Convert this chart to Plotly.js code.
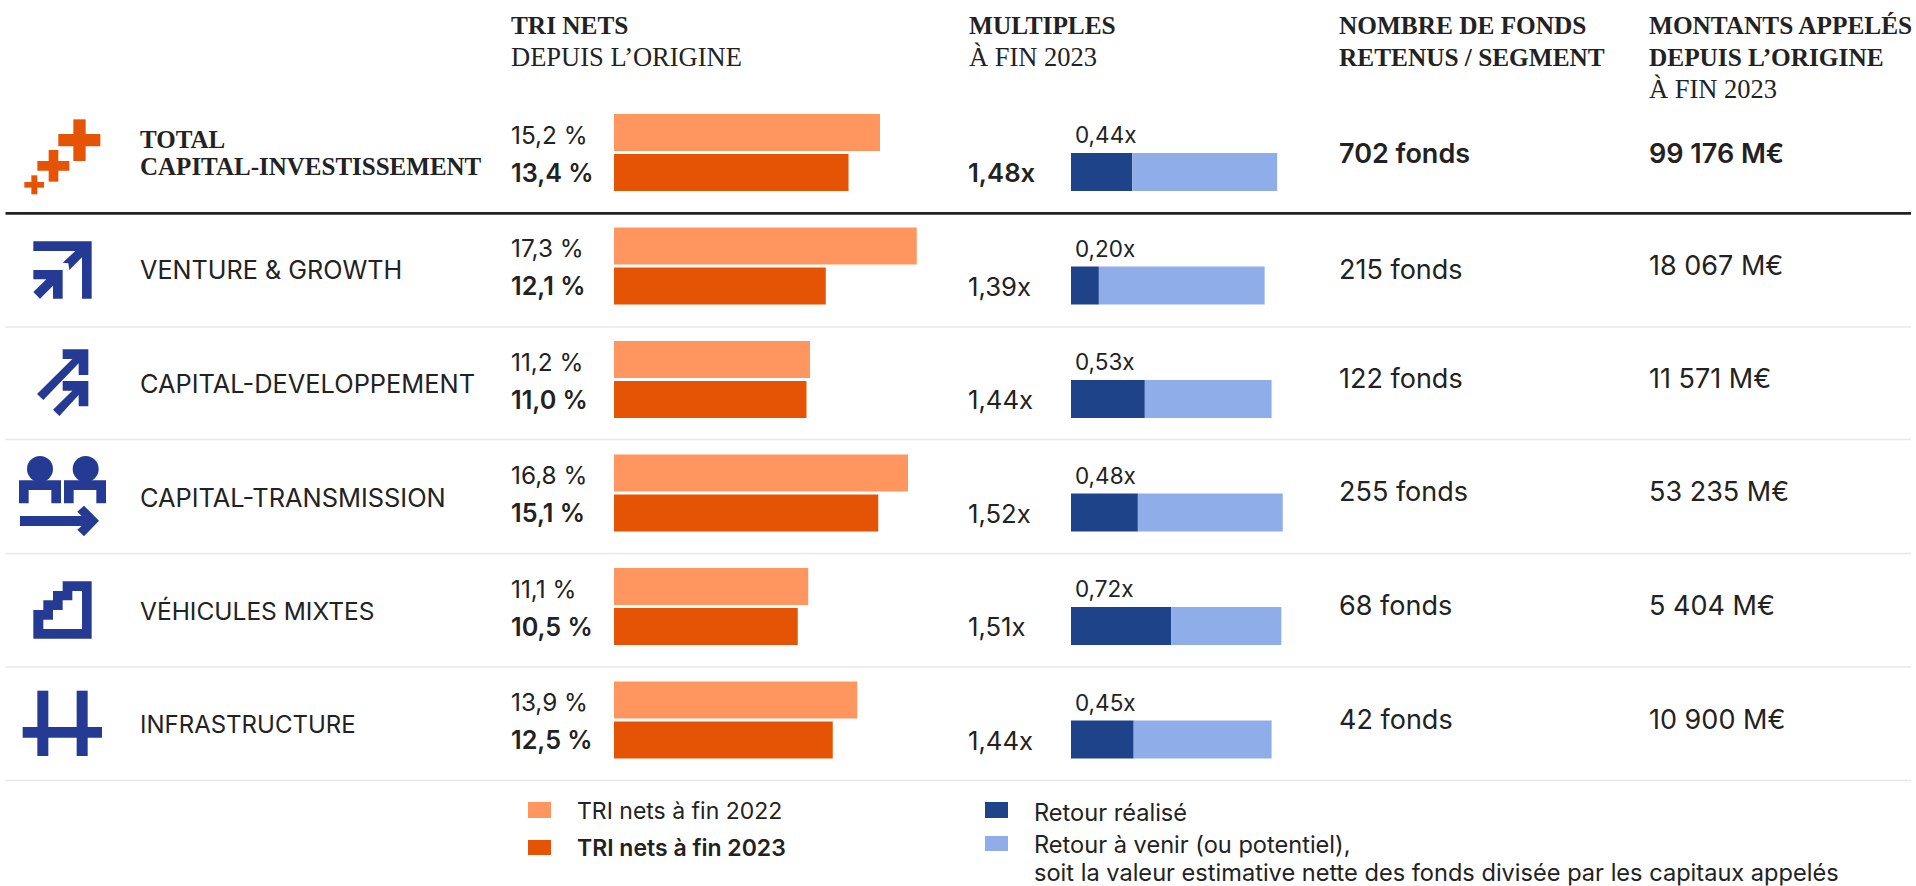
<!DOCTYPE html>
<html><head><meta charset="utf-8">
<script src="https://cdn.plot.ly/plotly-3.0.1.min.js"></script>
<style>html,body{margin:0;padding:0;background:#fff;overflow:hidden}</style></head>
<body><div id="chart" style="width:1916px;height:886px"></div>
<script>
const categories=["TOTAL CAPITAL-INVESTISSEMENT","VENTURE & GROWTH","CAPITAL-DEVELOPPEMENT","CAPITAL-TRANSMISSION","VÉHICULES MIXTES","INFRASTRUCTURE"];
const tri2022=[15.2,17.3,11.2,16.8,11.1,13.9];
const tri2023=[13.4,12.1,11.0,15.1,10.5,12.5];
const multipleTotal=[1.48,1.39,1.44,1.52,1.51,1.44];
const retourRealise=[0.44,0.20,0.53,0.48,0.72,0.45];
const retourAVenir=[1.04,1.19,0.91,1.04,0.79,0.99];
const nbFonds=["702 fonds","215 fonds","122 fonds","255 fonds","68 fonds","42 fonds"];
const montants=["99 176 M€","18 067 M€","11 571 M€","53 235 M€","5 404 M€","10 900 M€"];
const W=1916,H=886;
const COL={light:"#FF965F",dark:"#E55304",navy:"#1E4389",sky:"#8FADE8",icon:"#253A92",text:"#222222",rule:"#E8E8E8"};
const SANS="Inter, sans-serif",SERIF="'Liberation Serif', serif";
const px=x=>x/W, py=y=>1-y/H;
const fr=(v,d)=>v.toFixed(d).replace('.',',');

const common={type:'bar',orientation:'h',y:categories,hoverinfo:'skip'};
const data=[
 {...common,name:'TRI nets à fin 2022',x:tri2022,xaxis:'x',yaxis:'y',width:.326,offset:-.339,marker:{color:COL.light}},
 {...common,name:'TRI nets à fin 2023',x:tri2023,xaxis:'x',yaxis:'y',width:.326,offset:.013,marker:{color:COL.dark}},
 {...common,name:'Retour réalisé',x:retourRealise,xaxis:'x2',yaxis:'y',width:.335,offset:.004,marker:{color:COL.navy}},
 {...common,name:'Retour à venir (ou potentiel)',x:retourAVenir,base:retourRealise,xaxis:'x2',yaxis:'y',width:.335,offset:.004,marker:{color:COL.sky}}
];

const anns=[];
function pg(text,x,y,size,fam,weight,color){anns.push({text,xref:'paper',yref:'paper',x:px(x),y:py(y),xanchor:'left',yanchor:'middle',showarrow:false,borderpad:0,font:{family:fam||SANS,size:size,weight:weight||400,color:color||COL.text}});}
function row(text,cat,x,shift,size,weight){anns.push({text,xref:'paper',yref:'y',x:px(x),y:cat,yshift:-shift,xanchor:'left',yanchor:'middle',showarrow:false,borderpad:0,font:{family:SANS,size:size,weight:weight||400,color:COL.text}});}

const HB=25.3,HR=26.5;
pg("TRI NETS",510,25,HB,SERIF,700);
pg("DEPUIS L’ORIGINE",510,57,HR,SERIF,400);
pg("MULTIPLES",967.5,25,HB,SERIF,700);
pg("À FIN 2023",967.5,57,HR,SERIF,400);
pg("NOMBRE DE FONDS",1337.5,25,HB,SERIF,700);
pg("RETENUS / SEGMENT",1337.5,57,HB,SERIF,700);
pg("MONTANTS APPELÉS",1648,25,HB,SERIF,700);
pg("DEPUIS L’ORIGINE",1648,57,HB,SERIF,700);
pg("À FIN 2023",1648,89,HR,SERIF,400);
pg("TOTAL",139,139,25,SERIF,700);
pg("CAPITAL-INVESTISSEMENT",139,166,25,SERIF,700);

const fondsShift=[.5,3,-1,-1.5,-1,-1], montShift=[.5,-1,-1,-1.5,-1,-1];
const labelSize=[25,25.2,25.4,25.4,24.5,24];
categories.forEach((c,i)=>{
  const b=i===0?600:400;
  if(i>0) row(c,c,139,4,labelSize[i],400);
  row(fr(tri2022[i],1)+" %",c,510,-18,24.3,400);
  row(fr(tri2023[i],1)+" %",c,510,20,25.2,600);
  row(fr(multipleTotal[i],2)+"x",c,967,20,25.7,b);
  row(fr(retourRealise[i],2)+"x",c,1073.5,-18,22.5,400);
  row(nbFonds[i],c,1338,fondsShift[i],27,b);
  row(montants[i],c,1648,montShift[i],27,b);
});
pg("TRI nets à fin 2022",576,811,23,SANS,400);
pg("TRI nets à fin 2023",576,848,23,SANS,600);
pg("Retour réalisé",1033,812,23.6,SANS,400);
pg("Retour à venir (ou potentiel),",1033,844,23.6,SANS,400);
pg("soit la valeur estimative nette des fonds divisée par les capitaux appelés",1033,872.5,23.6,SANS,400);

const P=(pts,ox,oy)=>"M"+pts.map(p=>px(ox+p[0]/3)+","+py(oy+p[1]/3)).join("L")+"Z";
const R=(x0,y0,x1,y1)=>[[x0,y0],[x1,y0],[x1,y1],[x0,y1]];
const shapes=[];
const sh=(path,fill)=>shapes.push({type:'path',xref:'paper',yref:'paper',path,fillcolor:fill,line:{width:0}});
const rect=(x0,y0,x1,y1,fill)=>shapes.push({type:'rect',xref:'paper',yref:'paper',x0:px(x0),x1:px(x1),y0:py(y0),y1:py(y1),fillcolor:fill,line:{width:0}});
[[220,28,257,153,175,72,301,109],[146,120,175,215,112,153,208,182],[94,196,112,253,73,216,132,233]].forEach(c=>{
  sh(P(R(c[0],c[1],c[2],c[3]),0,110),COL.dark);
  sh(P(R(c[4],c[5],c[6],c[7]),0,110),COL.dark);
});
sh(P([[100,64],[275,64],[275,236],[246,236],[246,112],[208,150],[205,130],[188,128],[226,93],[100,93]],0,220),COL.icon);
sh(P([[100,150],[188,150],[188,236],[159,236],[159,197],[120,236],[100,216],[139,178],[100,178]],0,220),COL.icon);
sh(P([[188,43],[265,43],[265,120],[236,120],[236,85],[130,195],[111,177],[217,72],[188,72]],0,335),COL.icon);
sh(P([[188,138],[265,138],[265,214],[236,214],[236,180],[178,243],[159,224],[217,167],[188,167]],0,335),COL.icon);
[[120,72],[257,72]].forEach(c=>shapes.push({type:'circle',xref:'paper',yref:'paper',x0:px((c[0]-39)/3),x1:px((c[0]+39)/3),y0:py(445+(c[1]-39)/3),y1:py(445+(c[1]+39)/3),fillcolor:COL.icon,line:{width:0}}));
sh(P([[57,106],[183,106],[183,175],[154,175],[154,135],[86,135],[86,175],[57,175]],0,445),COL.icon);
sh(P([[192,106],[318,106],[318,175],[289,175],[289,135],[221,135],[221,175],[192,175]],0,445),COL.icon);
sh(P([[60,213],[245,213],[232,200],[252,182],[297,227],[252,274],[232,254],[245,243],[60,243]],0,445),COL.icon);
sh(P([[188,64],[275,64],[275,236],[100,236],[100,150],[130,150],[130,121],[159,121],[159,93],[188,93]],0,560)+P([[217,93],[217,121],[188,121],[188,150],[159,150],[159,179],[130,179],[130,207],[246,207],[246,93]],0,560),COL.icon);
sh(P(R(112,47,145,243),0,675),COL.icon);
sh(P(R(230,47,263,243),0,675),COL.icon);
sh(P(R(68,156,306,188),0,675),COL.icon);
rect(5.5,212,1911,214.8,"#222222");
[326.3,438.8,552.8,666.3,779.8].forEach(y=>rect(5.5,y,1911,y+1.5,COL.rule));
rect(528,802,551,818,COL.light);
rect(528,840,551,855,COL.dark);
rect(985,802,1008,818,COL.navy);
rect(985,836,1008,851,COL.sky);

const layout={width:W,height:H,autosize:false,margin:{l:0,r:0,t:0,b:0,pad:0},paper_bgcolor:'#fff',plot_bgcolor:'rgba(0,0,0,0)',showlegend:false,barmode:'overlay',
 xaxis:{domain:[px(614),px(960)],range:[0,346/17.5],visible:false,fixedrange:true},
 xaxis2:{domain:[px(1071),px(1320)],range:[0,249/139.3],visible:false,fixedrange:true,anchor:'y'},
 yaxis:{domain:[py(776.75),py(95.75)],type:'category',categoryorder:'array',categoryarray:categories,range:[5.5,-0.5],visible:false,fixedrange:true},
 annotations:anns,shapes};
Plotly.newPlot('chart',data,layout,{displayModeBar:false,staticPlot:true});
</script></body></html>
